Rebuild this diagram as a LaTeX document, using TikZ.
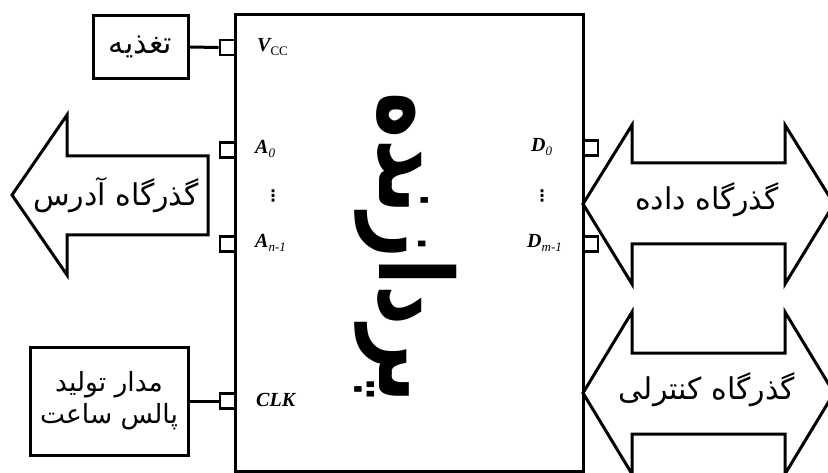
\documentclass[tikz,border=0pt]{standalone}
\usepackage{fontspec}
\TeXXeTstate=1
\newfontfamily\arabicfont[Script=Arabic]{DejaVu Sans}
\newfontfamily\tnr{Liberation Serif}
\newfontfamily\djv{DejaVu Sans}
\newcommand\pinlab[2]{{\bfseries\itshape #1}\raisebox{-3.5pt}{\itshape\fontsize{13}{13}\selectfont #2}}
\begin{document}
\begin{tikzpicture}[x=1pt,y=-1pt,
  box/.style={draw, line width=3pt, inner sep=0pt},
  pinsq/.style={draw, line width=2.6pt, minimum width=15pt, minimum height=15pt, inner sep=0pt},
  fa/.style={font=\arabicfont\fontsize{30}{32}\selectfont, inner sep=0pt, align=center},
  lab/.style={font=\tnr\fontsize{20}{20}\selectfont, inner sep=0pt},
  dotlab/.style={font=\djv\bfseries\fontsize{16}{16}\selectfont, inner sep=0pt},
  bus/.style={draw, line width=3pt, line join=miter}]
\useasboundingbox (0,0) rectangle (828,473);
% main box
\node[box, minimum width=348pt, minimum height=456pt] (cpu) at (409,243) {};
\node[inner sep=0pt, rotate=-90] (cpuname) at (406,248)
  {\resizebox*{310pt}{102pt}{\arabicfont\bfseries\beginR پردازنده\endR}};
% pins
\node[pinsq] (pvcc) at (227.5,47.5) {};
\node[pinsq] (pa0) at (227.5,150) {};
\node[pinsq] (pan) at (227.5,244) {};
\node[pinsq] (pclk) at (227.5,401) {};
\node[pinsq] (pd0) at (590.5,148) {};
\node[pinsq] (pdm) at (590.5,244) {};
% pin labels
\node[lab, anchor=west] (lvcc) at (257,47) {\pinlab{V}{\upshape CC}};
\node[lab, anchor=west] (la0) at (255,149) {\pinlab{A}{0}};
\node[dotlab] (ladots) at (273,196) {⋮};
\node[lab, anchor=west] (lan) at (255,243) {\pinlab{A}{n-1}};
\node[lab, anchor=west] (lclk) at (256,400) {\bfseries\itshape CLK};
\node[lab, anchor=west] (ld0) at (531,147) {\pinlab{D}{0}};
\node[dotlab] (lddots) at (542,196) {⋮};
\node[lab, anchor=west] (ldm) at (527,243) {\pinlab{D}{m-1}};
% power box
\node[box, minimum width=95pt, minimum height=63pt, fa] (pwr) at (140.5,47) {\beginR تغذیه\endR};
\draw[line width=3pt] (pwr.east) -- (pvcc.west);
% clock box
\node[box, minimum width=158pt, minimum height=108pt, fa, font=\arabicfont\fontsize{26.5}{32}\selectfont] (clk) at (109,401)
  {\beginR مدار تولید\endR\\\beginR پالس ساعت\endR};
\draw[line width=3pt] (clk.east) -- (pclk.west);
% address bus arrow
\draw[bus] (208,156) -- (67,156) -- (67,115) -- (12,195) -- (67,275) -- (67,235) -- (208,235) -- cycle;
\node[fa] (addr) at (116,195) {\beginR گذرگاه آدرس\endR};
% data bus arrow
\draw[bus] (583,204) -- (632,125) -- (632,163) -- (785,163) -- (785,125) -- (834,204)
  -- (785,284) -- (785,244) -- (632,244) -- (632,284) -- cycle;
\node[fa] (data) at (707,200) {\beginR گذرگاه داده\endR};
% control bus arrow
\draw[bus] (583,393) -- (632,312) -- (632,353) -- (785,353) -- (785,312) -- (834,393)
  -- (785,474) -- (785,434) -- (632,434) -- (632,474) -- cycle;
\node[fa] (ctrl) at (707,390) {\beginR گذرگاه کنترلی\endR};
\end{tikzpicture}
\end{document}
